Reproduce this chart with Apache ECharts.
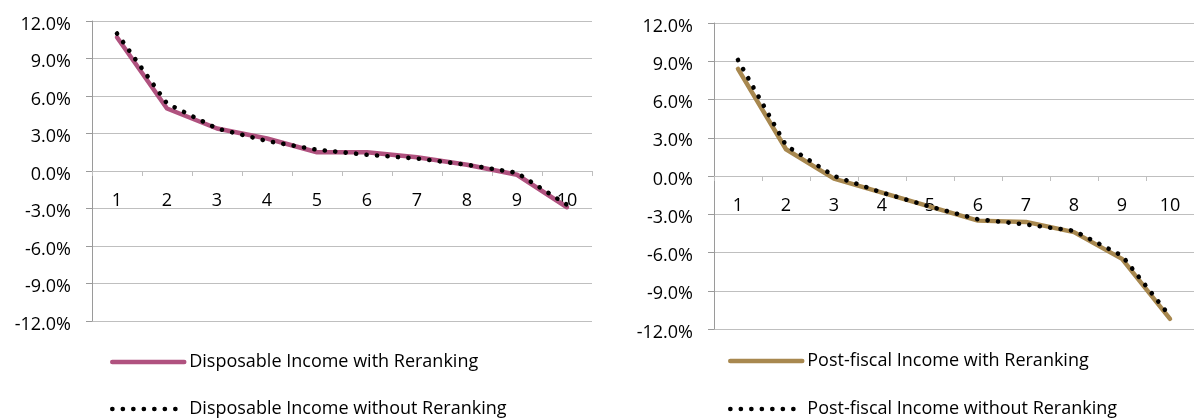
<!DOCTYPE html>
<html>
<head>
<meta charset="utf-8">
<script src="https://cdn.jsdelivr.net/npm/echarts@6/dist/echarts.min.js"></script>
<style>
html,body{margin:0;padding:0;background:#fff;}
#chart{width:1194px;height:420px;}
</style>
</head>
<body>
<div id="chart"></div>
<script>
var categories = ['1','2','3','4','5','6','7','8','9','10'];
var dispWith = [10.7, 5.0, 3.4, 2.6, 1.5, 1.5, 1.1, 0.5, -0.3, -2.9];
var dispWithout = [11.0, 5.4, 3.4, 2.4, 1.7, 1.3, 1.0, 0.5, -0.15, -2.7];
var postWith = [8.4, 2.1, -0.2, -1.3, -2.4, -3.5, -3.6, -4.4, -6.5, -11.2];
var postWithout = [9.1, 2.4, 0.0, -1.3, -2.4, -3.4, -3.8, -4.3, -6.25, -11.0];
var names = ['Disposable Income with Reranking','Disposable Income without Reranking',
             'Post-fiscal Income with Reranking','Post-fiscal Income without Reranking'];

var FONT = 'Open Sans';
var FS = 18;
var gridColor = '#bfbfbf';
var axisColor = '#9a9a9a';
var PINK = '#b0527f';
var GOLD = '#a8884f';

function xAxisCfg(gi, off){
  return {
    type:'category', gridIndex:gi, data:categories, boundaryGap:true,
    position:'bottom', offset:off,
    axisLine:{show:true, onZero:false, lineStyle:{color:gridColor, width:1}},
    axisTick:{show:true, length:5, lineStyle:{color:gridColor}},
    axisLabel:{color:'#000', fontFamily:FONT, fontSize:FS, margin:21}
  };
}
function yAxisCfg(gi){
  return {
    type:'value', gridIndex:gi, min:-12, max:12, interval:3,
    axisLine:{show:true, lineStyle:{color:axisColor, width:1}},
    axisTick:{show:true, length:6, lineStyle:{color:axisColor}},
    splitLine:{show:true, lineStyle:{color:gridColor, width:1}},
    axisLabel:{color:'#000', fontFamily:FONT, fontSize:FS, margin:21,
      verticalAlign:'top', lineHeight:7,
      formatter:function(v){return v.toFixed(1)+'%';}}
  };
}
function solid(name, data, color, gi){
  return {name:name, type:'line', xAxisIndex:gi, yAxisIndex:gi, data:data,
    symbol:'none', animation:false,
    lineStyle:{color:color, width:4.5, cap:'round', join:'round'},
    itemStyle:{color:color}};
}
function dotted(name, data, gi){
  return {name:name, type:'line', xAxisIndex:gi, yAxisIndex:gi, data:data,
    symbol:'none', animation:false,
    lineStyle:{color:'#000', width:4.6, type:[0.1,10.4], cap:'round', join:'round'},
    itemStyle:{color:'#000'}};
}
function legendCfg(left, top, name, w){
  return {
    orient:'horizontal', left:left, top:top, padding:0,
    itemWidth:72, itemHeight:20, itemGap:10,
    data:[name], selectedMode:false,
    itemStyle:{opacity:0, borderWidth:0},
    lineStyle:{width:w},
    textStyle:{color:'#000', fontFamily:FONT, fontSize:FS, lineHeight:20}
  };
}

var chart = echarts.init(document.getElementById('chart'), null, {renderer:'canvas'});
chart.setOption({
  animation:false,
  backgroundColor:'#fff',
  grid:[
    {left:92, top:21, width:500, height:300},
    {left:714, top:23, width:492, height:306}
  ],
  xAxis:[xAxisCfg(0, -150), xAxisCfg(1, -153)],
  yAxis:[yAxisCfg(0), yAxisCfg(1)],
  legend:[
    legendCfg(110, 352, names[0], 4.5),
    legendCfg(110, 399, names[1], 4.6),
    legendCfg(728, 351, names[2], 4.5),
    legendCfg(728, 399, names[3], 4.6)
  ],
  series:[
    solid(names[0], dispWith, PINK, 0),
    dotted(names[1], dispWithout, 0),
    solid(names[2], postWith, GOLD, 1),
    dotted(names[3], postWithout, 1)
  ]
});
</script>
</body>
</html>
